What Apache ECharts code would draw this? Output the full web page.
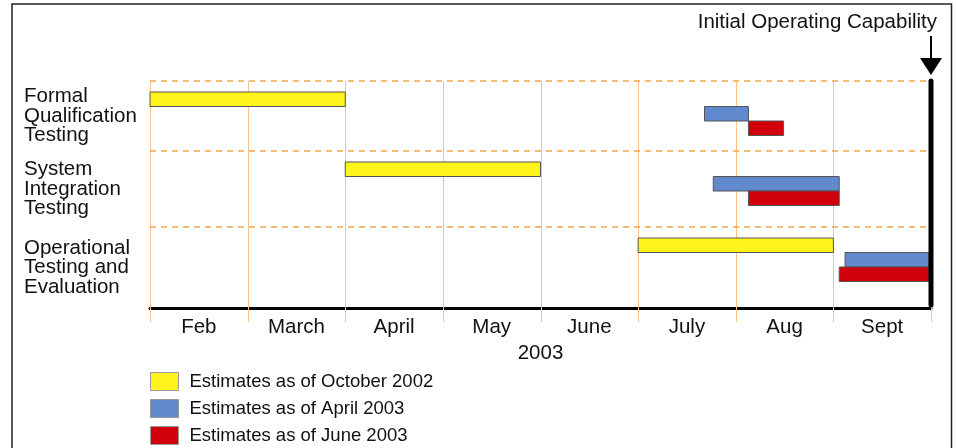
<!DOCTYPE html>
<html><head><meta charset="utf-8">
<script src="https://cdn.jsdelivr.net/npm/echarts@6/dist/echarts.min.js"></script>
<style>html,body{margin:0;padding:0;background:#fff}#c{width:957px;height:448px}</style>
</head><body><div id="c"></div>
<script>
// ---- data ----
const months = ['Feb','March','April','May','June','July','Aug','Sept'];
const yearLabel = '2003';
const activities = ['Formal\nQualification\nTesting','System\nIntegration\nTesting','Operational\nTesting and\nEvaluation'];
const seriesNames = ['Estimates as of October 2002','Estimates as of April 2003','Estimates as of June 2003'];
// [activity index, start (months after Feb 1), end]
const oct2002 = [[0, 0, 2], [1, 2, 4], [2, 5, 7.0]];
const apr2003 = [[0, 5.68, 6.13], [1, 5.77, 7.06], [2, 7.12, 7.98]];
const jun2003 = [[0, 6.13, 6.49], [1, 6.13, 7.06], [2, 7.06, 7.98]];
const iocLabel = 'Initial Operating Capability';
const iocMonth = 8;

// ---- layout constants ----
const rowEdges = [0, 70, 146, 227];   // y-axis units (px-like) for row bands
const barH = 14.5, barTop = 11;
const colors = ['#fff31c', '#6189cd', '#d0000d'];
const FONT = '"Liberation Sans", Arial, Helvetica, sans-serif';

const chart = echarts.init(document.getElementById('c'));

function barSeries(name, data, k) {
  return {
    name, type: 'custom', xAxisIndex: 0, yAxisIndex: 0,
    itemStyle: { color: colors[k] },
    data: data,
    encode: { x: [1, 2], y: 0 },
    renderItem: function (params, api) {
      const row = api.value(0);
      const y0 = rowEdges[row] + barTop + k * barH;
      const p0 = api.coord([api.value(1), y0]);
      const p1 = api.coord([api.value(2), y0 + barH]);
      return {
        type: 'rect',
        shape: { x: p0[0], y: p0[1], width: p1[0] - p0[0], height: p1[1] - p0[1] },
        style: { fill: colors[k], stroke: '#555', lineWidth: 1 }
      };
    },
    z: 5
  };
}

const option = {
  animation: false,
  grid: { left: 150, right: 26, top: 81, bottom: 140, containLabel: false },
  xAxis: [
    { type: 'value', min: 0, max: 8, interval: 1, show: false, splitLine: { show: false } },
    {
      type: 'category', data: months, boundaryGap: true, position: 'bottom',
      axisLine: { show: true, lineStyle: { color: '#000', width: 3 } },
      axisTick: { show: false },
      splitLine: { show: false },
      axisLabel: { color: '#111', fontSize: 20.5, fontFamily: FONT, margin: 9 },
      name: yearLabel, nameLocation: 'middle', nameGap: 33,
      nameTextStyle: { color: '#111', fontSize: 20.5, fontFamily: FONT, verticalAlign: 'top' }
    }
  ],
  yAxis: [{ type: 'value', inverse: true, min: 0, max: 227, show: false, splitLine: { show: false } }],
  legend: {
    orient: 'vertical', left: 150, top: 372, itemWidth: 28, itemHeight: 18, itemGap: 8,
    padding: 0, height: 90,
    icon: 'rect', selectedMode: false,
    itemStyle: { borderColor: '#999', borderWidth: 1 },
    textStyle: { fontSize: 18.5, color: '#111', fontFamily: FONT, padding: [0, 0, 0, 6] },
    data: seriesNames
  },
  series: [
    {
      type: 'custom', name: 'monthlines', xAxisIndex: 0, yAxisIndex: 0, silent: true, clip: false,
      data: months.map((m, i) => [i]).concat([[months.length]]),
      renderItem: function (params, api) {
        const a = api.coord([api.value(0), 0]);
        const b = api.coord([api.value(0), 227]);
        const x = Math.round(a[0]) + 0.5;
        return { type: 'line', shape: { x1: x, y1: a[1], x2: x, y2: b[1] + 14 },
          style: { stroke: '#f8c28a', lineWidth: 1 } };
      },
      z: 1
    },
    {
      type: 'custom', name: 'rowlines', xAxisIndex: 0, yAxisIndex: 0, silent: true,
      data: rowEdges.slice(0, 3).map((e, i) => [i]),
      renderItem: function (params, api) {
        const i = api.value(0);
        const a = api.coord([0, rowEdges[i]]);
        const b = api.coord([8, rowEdges[i]]);
        return { type: 'line', shape: { x1: a[0], y1: a[1], x2: b[0], y2: b[1] },
          style: { stroke: '#f3a54a', lineWidth: 1.5, lineDash: [6, 5] } };
      },
      z: 2
    },
    barSeries(seriesNames[0], oct2002, 0),
    barSeries(seriesNames[1], apr2003, 1),
    barSeries(seriesNames[2], jun2003, 2)
  ]
};
chart.setOption(option);

// overlay graphics computed via the axes
const g = [];
g.push({ type: 'rect', shape: { x: 12, y: 4, width: 939.5, height: 460 }, style: { fill: 'none', stroke: '#222', lineWidth: 1.5 }, z: 0, silent: true });
activities.forEach((t, i) => {
  const yc = chart.convertToPixel({ gridIndex: 0 }, [0, (rowEdges[i] + rowEdges[i + 1]) / 2])[1];
  g.push({ type: 'text', x: 24, y: yc, style: { text: t, font: '20.5px ' + FONT, fill: '#111', textVerticalAlign: 'middle', lineHeight: 19.5 } });
});
const ioTop = chart.convertToPixel({ gridIndex: 0 }, [iocMonth, 0]);
const ioBot = chart.convertToPixel({ gridIndex: 0 }, [iocMonth, 227]);
const ix = ioTop[0];
g.push({ type: 'line', shape: { x1: ix, y1: ioTop[1] + 0, x2: ix, y2: ioBot[1] - 3 }, style: { stroke: '#000', lineWidth: 5, lineCap: 'round' }, z: 20 });
g.push({ type: 'line', shape: { x1: ix, y1: 36, x2: ix, y2: 60 }, style: { stroke: '#000', lineWidth: 2 }, z: 20 });
g.push({ type: 'polygon', shape: { points: [[ix - 11, 58], [ix + 11, 58], [ix, 75]] }, style: { fill: '#000' }, z: 20 });
g.push({ type: 'text', x: 937, y: 22, style: { text: iocLabel, font: '20.5px ' + FONT, fill: '#111', textAlign: 'right', textVerticalAlign: 'middle' }, z: 20 });
chart.setOption({ graphic: g });
</script>
</body></html>
